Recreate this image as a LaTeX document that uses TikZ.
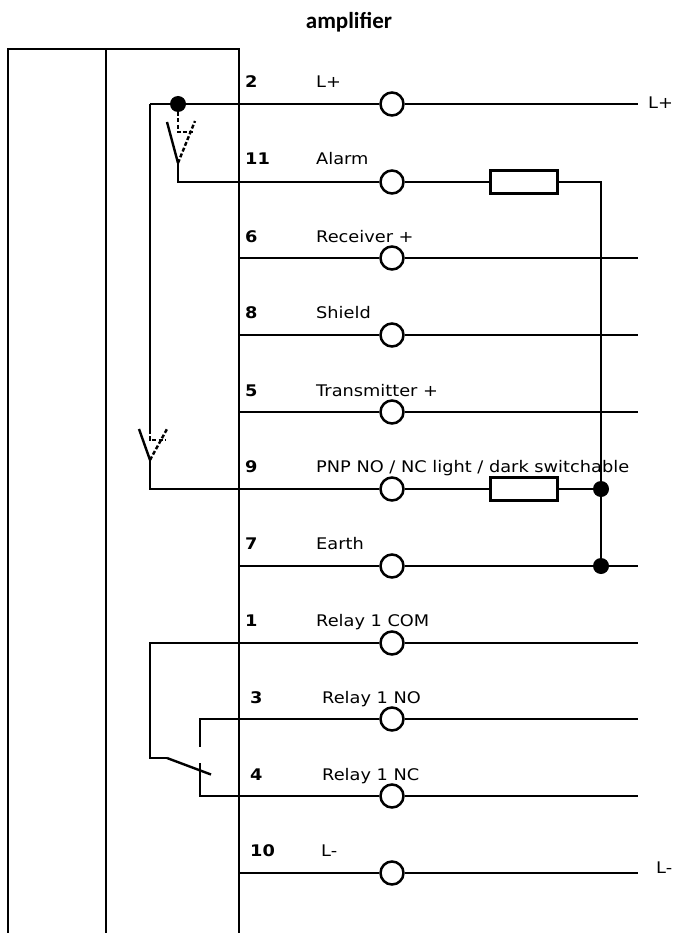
\documentclass[tikz,border=0pt]{standalone}
\usepackage{fontspec}
\setmainfont[FakeStretch=1.11]{DejaVu Sans}
\newfontfamily\titlefont{Carlito}
\begin{document}
\begin{tikzpicture}[x=1pt,y=-1pt,
  wire/.style={line width=2.8pt,line join=miter},
  thin wire/.style={line width=2.4pt},
  dash wire/.style={line width=2.4pt,dash pattern=on 4pt off 2.2pt},
  terminal/.style={circle,draw,line width=2.5pt,fill=white,minimum size=23pt,inner sep=0pt},
  resistor/.style={rectangle,draw,line width=2.8pt,fill=white,minimum width=67pt,minimum height=23pt,inner sep=0pt},
  junction/.style={circle,fill=black,minimum size=16pt,inner sep=0pt},
  lab/.style={anchor=base west,inner sep=0pt,font=\fontsize{16}{18}\selectfont},
  num/.style={anchor=base west,inner sep=0pt,font=\fontsize{16}{18}\selectfont\bfseries}]
\useasboundingbox (0,0) rectangle (673,933);
\node[anchor=base,inner sep=0pt,font=\fontsize{23}{24}\selectfont\titlefont\bfseries] (title) at (349,29) {amplifier};
% housing
\draw[wire] (8,940) -- (8,49) -- (239,49) -- (239,940);
\draw[wire] (106,49) -- (106,940);
% free wire ends on the housing wall and on the right
\foreach \n/\y in {a/182,b/258,c/335,d/412,e/489,f/566,g/643,h/719,i/796,j/873}{
  \coordinate (w\n) at (239,\y);
  \coordinate (r\n) at (638,\y);
  \node[terminal] (t\n) at (392,\y) {};
}
\coordinate (rl) at (638,104);
\node[terminal] (tl) at (392,104) {};
% terminal wires
\node[junction] (jtop) at (178,104) {};
\coordinate (cornerL) at (150,104);
\coordinate (sw2pivot) at (150,460);
\coordinate (sw2base) at (150,489);
\coordinate (sw1pivot) at (178,163);
\coordinate (sw1base) at (178,182);
\draw[wire] (cornerL) -- (tl) (tl) -- (rl);
\draw[wire] (cornerL) -- (150,430);
\draw[wire] (sw1pivot) -- (sw1base) -- (ta);
\draw[wire] (sw2pivot) -- (sw2base) -- (te);
\node[resistor] (ra) at (524,182) {};
\node[resistor] (re) at (524,489) {};
\node[junction] (je) at (601,489) {};
\node[junction] (jf) at (601,566) {};
\draw[wire] (ta) -- (ra);
\draw[wire] (ra) -- (601,182) -- (je);
\draw[wire] (te) -- (re) (re) -- (je);
\draw[wire] (je) -- (jf);
\draw[wire] (wb) -- (tb) -- (rb);
\draw[wire] (wc) -- (tc) -- (rc);
\draw[wire] (wd) -- (td) -- (rd);
\draw[wire] (wf) -- (tf) -- (jf) -- (rf);
\draw[wire] (tg) -- (rg);
\draw[wire] (th) -- (rh);
\draw[wire] (ti) -- (ri);
\draw[wire] (wj) -- (tj) -- (rj);
% alarm switch
\draw[thin wire] (sw1pivot) -- (167,122);
\draw[dash wire] (jtop) -- (178,132) -- (193,132);
\draw[dash wire] (sw1pivot) -- (195,121);
% PNP switch
\draw[thin wire] (sw2pivot) -- (139,429);
\draw[dash wire] (150,430) -- (150,440) -- (165,440);
\draw[dash wire] (sw2pivot) -- (167,429);
% relay
\coordinate (relA) at (150,758);
\coordinate (relB) at (167,758);
\coordinate (relC) at (211,774.5);
\draw[wire] (tg) -- (150,643) -- (relA) -- (relB);
\draw[thin wire] (relB) -- (relC);
\draw[wire] (th) -- (200,719) -- (200,747);
\draw[wire] (ti) -- (200,796) -- (200,763);
% numbers
\node[num] (n2) at (245,88) {2};
\node[num] (n11) at (245,165) {11};
\node[num] (n6) at (245,242) {6};
\node[num] (n8) at (245,318) {8};
\node[num] (n5) at (245,396) {5};
\node[num] (n9) at (245,472) {9};
\node[num] (n7) at (245,549) {7};
\node[num] (n1) at (245,626) {1};
\node[num] (n3) at (250,703) {3};
\node[num] (n4) at (250,780) {4};
\node[num] (n10) at (250,856) {10};
% labels
\node[lab] (l1) at (316,88) {L+};
\node[lab] (l2) at (316,165) {Alarm};
\node[lab] (l3) at (316,242) {Receiver +};
\node[lab] (l4) at (316,318) {Shield};
\node[lab] (l5) at (316,396) {Transmitter +};
\node[lab] (l6) at (316,472) {PNP NO / NC light / dark switchable};
\node[lab] (l7) at (316,549) {Earth};
\node[lab] (l8) at (316,626) {Relay 1 COM};
\node[lab] (l9) at (322,703) {Relay 1 NO};
\node[lab] (l10) at (322,780) {Relay 1 NC};
\node[lab] (l11) at (321,856) {L-};
\node[lab] (l12) at (648,109) {L+};
\node[lab] (l13) at (656,873) {L-};
\end{tikzpicture}
\end{document}
